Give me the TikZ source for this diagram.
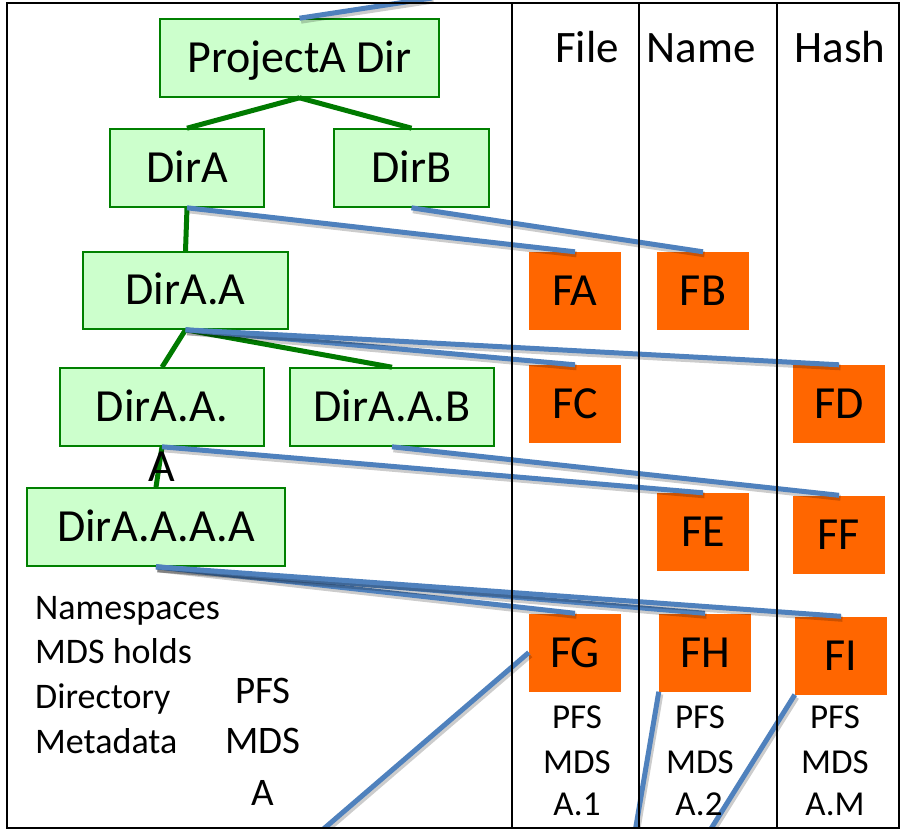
\documentclass[tikz,border=0pt]{standalone}
\usepackage{fontspec}
\setmainfont{Carlito}
\definecolor{boxgreen}{HTML}{008000}
\definecolor{fillgreen}{HTML}{CCFFCC}
\definecolor{treegreen}{HTML}{007A00}
\definecolor{fileorange}{HTML}{FF6600}
\definecolor{linkblue}{HTML}{4F81BD}
\begin{document}
\begin{tikzpicture}[x=1pt,y=-1pt,
  dirbox/.style={draw=boxgreen, line width=1.6pt, fill=fillgreen, inner sep=0pt,
    minimum height=78pt, text height=29pt, text depth=0pt,
    font=\fontsize{46}{55}\selectfont},
  filebox/.style={fill=fileorange, inner sep=0pt, minimum width=92pt,
    minimum height=78pt, text height=29pt, text depth=0pt,
    font=\fontsize{46}{55}\selectfont},
  tree/.style={draw=treegreen, line width=5pt},
  link/.style={draw=linkblue, line width=5pt,
    preaction={draw=black, opacity=0.2, line width=6pt,
      transform canvas={shift={(1.5pt,-2.5pt)}}}},
  frame/.style={draw=black, line width=2.4pt},
  head/.style={anchor=base, inner sep=0pt, font=\fontsize{45}{54}\selectfont},
  note/.style={anchor=base west, inner sep=0pt, font=\fontsize{36}{44}\selectfont},
  mdsbig/.style={anchor=base, inner sep=0pt, font=\fontsize{39}{47}\selectfont},
  mdssmall/.style={anchor=base, inner sep=0pt, font=\fontsize{35}{44}\selectfont}]
\useasboundingbox (0,0) rectangle (900,829);
\clip (0,0) rectangle (900,829);

% directory tree
\node[dirbox, minimum width=279pt] (proj) at (299.5,58) {ProjectA Dir};
\node[dirbox, minimum width=154pt] (dira) at (187,168) {DirA};
\node[dirbox, minimum width=155pt] (dirb) at (411.5,168) {DirB};
\node[dirbox, minimum width=205pt, minimum height=77pt] (diraa) at (185.5,290.5) {DirA.A};
\node[dirbox, minimum width=204pt] (diraaa) at (162,407) {DirA.A.};
\node[dirbox, minimum width=204pt] (diraab) at (392,407) {DirA.A.B};
\node[dirbox, minimum width=258pt] (diraaaa) at (156,527) {DirA.A.A.A};

% file objects
\node[filebox] (fa) at (575,291) {FA};
\node[filebox] (fb) at (703,291) {FB};
\node[filebox] (fc) at (575,404) {FC};
\node[filebox] (fd) at (839,404) {FD};
\node[filebox] (fe) at (703,532) {FE};
\node[filebox] (ff) at (839,534.5) {FF};
\node[filebox] (fg) at (575,652.5) {FG};
\node[filebox] (fh) at (705,652.5) {FH};
\node[filebox] (fi) at (841,655.5) {FI};

% free ends of the links leaving the picture
\coordinate (topend) at (432,-2);
\coordinate (gend) at (320,832);
\coordinate (hend) at (635,832);
\coordinate (iend) at (709,832);

% tree edges
\draw[tree] (proj.south) -- (dira.north);
\draw[tree] (proj.south) -- (dirb.north);
\draw[tree] (dira.south) -- (diraa.north);
\draw[tree] (diraa.south) -- (diraaa.north);
\draw[tree] (diraa.south) -- (diraab.north);
\draw[tree] (diraaa.south) -- (diraaaa.north);

% directory-to-file links
\draw[link] (proj.north) -- (topend);
\draw[link] (dira.south) -- (fa.north);
\draw[link] (dirb.south) -- (fb.north);
\draw[link] (diraa.south) -- (fc.north);
\draw[link] (diraa.south) -- (fd.north);
\draw[link] (diraaa.south) -- (fe.north);
\draw[link] (diraab.south) -- (ff.north);
\draw[link] (diraaaa.south) -- (fg.north);
\draw[link] (diraaaa.south) -- (fh.north);
\draw[link] (diraaaa.south) -- (fi.north);
\draw[link] (fg.west) -- (gend);
\draw[link] (fh.south west) -- (hend);
\draw[link] (fi.south west) -- (iend);

% frame and columns
\draw[frame] (7,3) rectangle (512,828);
\draw[frame] (512,3) rectangle (639,828);
\draw[frame] (639,3) rectangle (777,828);
\draw[frame] (777,3) rectangle (899,828);

% wrapped last letter of DirA.A.A
\node[head, font=\fontsize{46}{55}\selectfont] (wrapa) at (162,481) {A};

% column headers
\node[head] (hfile) at (587,63) {File};
\node[head] (hname) at (701,63) {Name};
\node[head] (hhash) at (840,63) {Hash};

% notes
\node[note] (n1) at (35,619) {Namespaces};
\node[note] (n2) at (35,663) {MDS holds};
\node[note] (n3) at (35,708) {Directory};
\node[note] (n4) at (35,753) {Metadata};

% metadata servers
\node[mdsbig] (ma1) at (263,703) {PFS};
\node[mdsbig] (ma2) at (263,753) {MDS};
\node[mdsbig] (ma3) at (263,805) {A};

\node[mdssmall] (m11) at (577,728) {PFS};
\node[mdssmall] (m12) at (577,773) {MDS};
\node[mdssmall] (m13) at (577,815) {A.1};
\node[mdssmall] (m21) at (700,728) {PFS};
\node[mdssmall] (m22) at (700,773) {MDS};
\node[mdssmall] (m23) at (699,815) {A.2};
\node[mdssmall] (m31) at (835,728) {PFS};
\node[mdssmall] (m32) at (835,773) {MDS};
\node[mdssmall] (m33) at (835,815) {A.M};
\end{tikzpicture}
\end{document}
